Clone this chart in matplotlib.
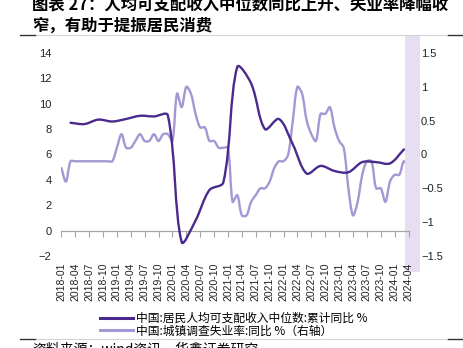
import matplotlib

matplotlib.use("Agg")
import matplotlib.pyplot as plt
import numpy as np
import pandas as pd
from matplotlib.lines import Line2D
from matplotlib.patches import PathPatch
from matplotlib.path import Path

plt.rcParams["font.family"] = ["Liberation Sans", "Noto Sans CJK SC", "DejaVu Sans"]
plt.rcParams["axes.unicode_minus"] = True

CJK = ["Noto Sans CJK SC", "DejaVu Sans"]

# 中国:城镇调查失业率:同比 (百分点), 月度, 2018-01 起
unemp_start = "2018-01"
unemp_yoy = [
    -0.2, -0.4, -0.1, -0.1, -0.1, -0.1, -0.1, -0.1, -0.1, -0.1, -0.1, -0.1,  # 2018
    0.1, 0.3, 0.1, 0.1, 0.2, 0.3, 0.2, 0.2, 0.3, 0.2, 0.3, 0.3,  # 2019
    0.2, 0.9, 0.7, 1.0, 0.9, 0.6, 0.4, 0.4, 0.2, 0.2, 0.1, 0.1,  # 2020
    0.1, -0.7, -0.6, -0.9, -0.9, -0.7, -0.6, -0.5, -0.5, -0.4, -0.2, -0.1,  # 2021
    -0.1, 0.0, 0.5, 1.0, 0.9, 0.5, 0.3, 0.2, 0.6, 0.6, 0.7, 0.4,  # 2022
    0.2, 0.1, -0.5, -0.9, -0.7, -0.3, -0.1, -0.1, -0.5, -0.5, -0.7, -0.4,  # 2023
    -0.3, -0.3, -0.1, -0.2,  # 2024
]

# 中国:居民人均可支配收入中位数:累计同比 (%), 季度, 2018-03 起
income_start = "2018-03"
income_yoy = [
    8.5, 8.4, 8.75, 8.6,  # 2018
    8.8, 9.05, 9.0, 9.1,  # 2019
    -0.9, 0.8, 3.2, 3.8,  # 2020
    12.9, 11.6, 8.0, 8.8,  # 2021
    6.8, 4.5, 5.1, 4.7,  # 2022
    4.6, 5.4, 5.4, 5.3,  # 2023
    6.4,  # 2024
]

income_label = "中国:居民人均可支配收入中位数:累计同比 %"
unemp_label = "中国:城镇调查失业率:同比 %（右轴）"
title_lines = [
    "图表 27：人均可支配收入中位数同比上升、失业率降幅收",
    "窄，有助于提振居民消费",
]
source_text = "资料来源：wind资讯，华鑫证券研究"

DARK = "#4a2a8c"
LIGHT = "#a597d3"
BAND = "#e7dff1"
AXIS_GRAY = "#a6a6a6"

months = pd.period_range(unemp_start, periods=len(unemp_yoy), freq="M")
income_months = pd.period_range(income_start, periods=len(income_yoy), freq="3M")


def month_pos(p):
    return (p.year - months[0].year) * 12 + (p.month - months[0].month)


unemp_x = np.array([month_pos(p) for p in months])
income_x = np.array([month_pos(p) for p in income_months])


def smooth_path(ax, xs, ys, tension=1 / 3):
    """Bezier through the points, control arms scaled by neighbouring segment lengths."""
    pts = ax.transData.transform(np.column_stack([xs, ys]))
    seg = np.linalg.norm(np.diff(pts, axis=0), axis=1)
    n = len(pts)
    verts = [pts[0]]
    codes = [Path.MOVETO]
    for i in range(n - 1):
        p0, p1 = pts[i], pts[i + 1]
        if i == 0:
            c1 = p0 + (p1 - p0) * tension
        else:
            c1 = p0 + (pts[i + 1] - pts[i - 1]) * tension * seg[i] / (seg[i - 1] + seg[i])
        if i == n - 2:
            c2 = p1 - (p1 - p0) * tension
        else:
            c2 = p1 - (pts[i + 2] - pts[i]) * tension * seg[i] / (seg[i] + seg[i + 1])
        verts += [c1, c2, p1]
        codes += [Path.CURVE4] * 3
    verts = ax.transData.inverted().transform(np.array(verts))
    return Path(verts, codes)


fig = plt.figure(figsize=(4.63, 3.48), dpi=100)
ax = fig.add_axes([0.1324, 0.2644, 0.75, 0.5833])
ax2 = ax.twinx()

ax.set_xlim(0, len(unemp_yoy) - 1)
ax.set_ylim(-2, 14)
ax2.set_ylim(-1.5, 1.5)
ax.set_yticks(np.arange(-2, 15, 2))
ax2.set_yticks([-1.5, -1, -0.5, 0, 0.5, 1, 1.5])
ax2.set_yticklabels(["−1.5", "−1", "−0.5", "0", "0.5", "1", "1.5"])

for a in (ax, ax2):
    for s in a.spines.values():
        s.set_visible(False)
    a.tick_params(axis="y", length=0, labelsize=8, colors="#222222")
ax.tick_params(axis="y", pad=7)
ax2.tick_params(axis="y", pad=9)

# month labels along the bottom, tick marks on the zero line
ticks = unemp_x[::3]
ax.set_xticks(ticks)
ax.set_xticklabels(months[::3].strftime("%Y-%m"), rotation=90)
ax.tick_params(axis="x", length=0, pad=5, labelsize=7.5, colors="#222222")

zero_axis = ax.secondary_xaxis(2 / 16)
zero_axis.set_xticks(ticks)
zero_axis.set_xticklabels([])
zero_axis.tick_params(axis="x", direction="out", length=4, width=0.8, color=AXIS_GRAY)
zero_axis.spines["bottom"].set_color(AXIS_GRAY)
zero_axis.spines["bottom"].set_linewidth(0.9)

ax.axvspan(74.2, 77.4, ymin=-0.079, ymax=1.089, color=BAND, lw=0, clip_on=False, zorder=0)

ax2.add_patch(PathPatch(smooth_path(ax2, unemp_x, unemp_yoy), fill=False,
                        edgecolor=LIGHT, lw=1.7, capstyle="round", joinstyle="round"))
ax.add_patch(PathPatch(smooth_path(ax, income_x, income_yoy), fill=False,
                       edgecolor=DARK, lw=1.7, capstyle="round", joinstyle="round", zorder=3))
ax.set_zorder(ax2.get_zorder() + 1)
ax.patch.set_visible(False)

handles = [Line2D([], [], color=DARK, lw=2.2), Line2D([], [], color=LIGHT, lw=2.2)]
fig.legend(handles, [income_label, unemp_label], loc="upper left",
           bbox_to_anchor=(100 / 463, 1 - 312 / 348), frameon=False,
           prop={"family": CJK, "size": 8.5}, handlelength=2.8, handletextpad=0.25,
           labelspacing=-0.05, borderpad=0, borderaxespad=0)

fig.text(32 / 463, 1 - 9.5 / 348, title_lines[0], family=CJK, fontsize=11.8,
         fontweight="bold", va="baseline")
fig.text(32 / 463, 1 - 30.5 / 348, title_lines[1], family=CJK, fontsize=11.8,
         fontweight="bold", va="baseline")
fig.text(32 / 463, 1 - 342 / 348, source_text, family=CJK, fontsize=10, va="top")

# header / footer rules
for yy in (1 - 34.5 / 348, 1 - 338.5 / 348):
    fig.add_artist(Line2D([35 / 463, 448 / 463], [yy, yy], color="#d4d4d4", lw=0.8))
    fig.add_artist(Line2D([20 / 463, 35 / 463], [yy, yy], color="#333333", lw=1.0))
    fig.add_artist(Line2D([448 / 463, 1], [yy, yy], color="#333333", lw=1.0))

fig.savefig("out.png", dpi=100)
